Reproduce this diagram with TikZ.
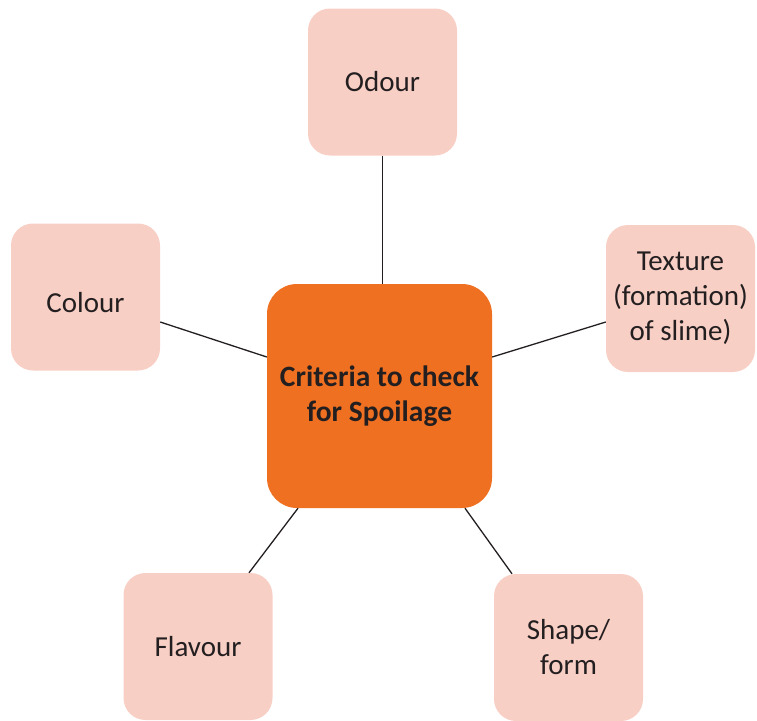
\documentclass[tikz,border=0pt]{standalone}
\usepackage{fontspec}
\setmainfont{Carlito}
\usetikzlibrary{calc}
\definecolor{petal}{HTML}{F8CFC5}
\definecolor{hub}{HTML}{F07022}
\definecolor{ink}{HTML}{231F20}

\begin{document}
\begin{tikzpicture}[x=1pt,y=-1pt,
	criterion/.style={fill=petal, rounded corners=22pt, text=ink, align=center,
		minimum width=149pt, minimum height=147pt, inner sep=0pt,
		font=\fontsize{29}{35}\selectfont},
	centre/.style={fill=hub, rounded corners=30pt, text=ink, align=center,
		minimum width=225pt, minimum height=224pt, inner sep=0pt,
		font=\fontsize{29.5}{35}\selectfont\bfseries},
	spoke/.style={draw=ink, line width=1.3pt}]
		\useasboundingbox (0,0) rectangle (757,720);
		\node[centre] (crit) at (379.5,396) {Criteria to check\\for Spoilage};
		\node[criterion] (odour) at (382.5,82) {Odour};
		\node[criterion] (colour) at (85.5,297) {\raisebox{-15pt}[0pt][0pt]{Colour}};
		\node[criterion] (texture) at (680.5,298.5) {Texture\\(formation)\\of slime)};
		\node[criterion] (flavour) at (198,646.5) {Flavour};
		\node[criterion] (shape) at (568.5,647.5) {Shape/\\form};
		\draw[spoke] (odour.south) -- (odour.south |- crit.north);
		\draw[spoke] ($(colour.east)+(0,25)$) -- ($(crit.west)+(0,-39)$);
		\draw[spoke] ($(texture.west)+(0,23.5)$) -- ($(crit.east)+(0,-39)$);
		\draw[spoke] ($(flavour.north)+(51,0)$) -- ($(crit.south)+(-81.5,0)$);
		\draw[spoke] ($(shape.north)+(-56.5,0)$) -- ($(crit.south)+(85.5,0)$);
	\end{tikzpicture}
\end{document}
